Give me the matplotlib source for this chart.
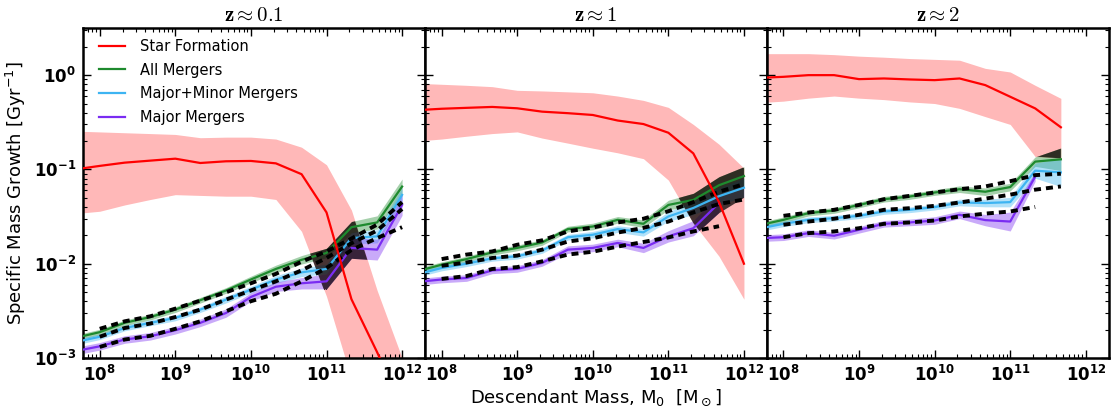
import numpy as np
import matplotlib
matplotlib.use("Agg")
import matplotlib.pyplot as plt
from matplotlib.ticker import LogLocator, FuncFormatter, NullFormatter

plt.rcParams['mathtext.fontset'] = 'dejavusans'
plt.rcParams['font.family'] = 'DejaVu Sans'

nan = np.nan

# descendant mass bins, log10(M0 / Msun)
log_mass = [7.67, 8.0, 8.33, 8.67, 9.0, 9.33, 9.67, 10.0, 10.33, 10.67, 11.0, 11.33, 11.67, 12.0]

# ---- z ~ 0.1 ----
sf_z01 = [0.10, 0.109, 0.118, 0.124, 0.13, 0.117, 0.122, 0.123, 0.116, 0.089, 0.035, 0.0042, 0.00115, 0.0003]
sf_lo_z01 = [0.034, 0.036, 0.042, 0.048, 0.054, 0.053, 0.052, 0.052, 0.048, 0.022, 0.0045, 0.0006, 0.0002, 0.0001]
sf_hi_z01 = [0.255, 0.25, 0.245, 0.24, 0.235, 0.217, 0.22, 0.22, 0.21, 0.172, 0.112, 0.037, 0.0052, 0.001]
all_z01 = [0.00163, 0.00188, 0.00236, 0.00272, 0.00326, 0.0041, 0.0052, 0.0068, 0.0088, 0.011, 0.013, 0.0244, 0.0274, 0.0658]
mm_z01 = [0.00147, 0.00168, 0.00208, 0.00236, 0.00266, 0.00326, 0.00416, 0.0053, 0.0068, 0.0081, 0.0088, 0.0187, 0.0195, 0.0537]
maj_z01 = [0.00118, 0.00133, 0.00157, 0.0017, 0.00197, 0.00236, 0.0030, 0.00444, 0.0057, 0.0062, 0.0065, 0.0147, 0.0141, 0.042]
fit_all_z01 = [nan, 0.00204, 0.00245, 0.00277, 0.00334, 0.00406, 0.00497, 0.0062, 0.0078, 0.0105, 0.0135, 0.0185, 0.026, 0.045]
fit_mm_z01 = [nan, 0.00168, 0.00208, 0.00232, 0.00272, 0.00326, 0.00416, 0.0052, 0.0065, 0.0085, 0.0115, 0.0165, 0.0225, 0.038]
fit_maj_z01 = [nan, 0.00131, 0.00157, 0.00172, 0.00204, 0.00245, 0.00313, 0.0040, 0.0048, 0.0065, 0.009, 0.014, 0.0187, 0.0244]
sp_all_z01 = [0.03, 0.03, 0.03, 0.03, 0.03, 0.03, 0.03, 0.035, 0.04, 0.045, 0.05, 0.06, 0.07, 0.08]
sp_mm_z01 = [0.03, 0.03, 0.03, 0.03, 0.03, 0.03, 0.035, 0.035, 0.04, 0.045, 0.05, 0.06, 0.07, 0.08]
sp_maj_z01 = [0.04, 0.04, 0.04, 0.04, 0.04, 0.04, 0.045, 0.045, 0.05, 0.06, 0.08, 0.11, 0.11, 0.11]

# ---- z ~ 1 ----
sf_z1 = [0.425, 0.44, 0.45, 0.46, 0.445, 0.41, 0.395, 0.378, 0.33, 0.303, 0.245, 0.148, 0.045, 0.01]
sf_lo_z1 = [0.2, 0.21, 0.225, 0.24, 0.25, 0.215, 0.19, 0.168, 0.15, 0.13, 0.077, 0.027, 0.012, 0.0042]
sf_hi_z1 = [0.82, 0.8, 0.78, 0.755, 0.69, 0.68, 0.665, 0.65, 0.6, 0.54, 0.455, 0.3, 0.185, 0.103]
all_z1 = [0.0083, 0.00976, 0.0112, 0.0132, 0.0147, 0.0168, 0.0233, 0.0248, 0.0292, 0.0265, 0.042, 0.0475, 0.068, 0.085]
mm_z1 = [0.0077, 0.009, 0.01, 0.0114, 0.012, 0.0138, 0.0191, 0.0203, 0.0233, 0.0215, 0.0317, 0.039, 0.052, 0.064]
maj_z1 = [0.0064, 0.0068, 0.00705, 0.0085, 0.0088, 0.0102, 0.0141, 0.0147, 0.0166, 0.0147, 0.0195, 0.0238, 0.044, nan]
fit_all_z1 = [nan, 0.0112, 0.0125, 0.0135, 0.0159, 0.0177, 0.022, 0.0242, 0.0274, 0.030, 0.036, 0.045, 0.058, 0.07]
fit_mm_z1 = [nan, 0.0095, 0.0103, 0.0115, 0.0122, 0.0141, 0.0172, 0.0186, 0.0214, 0.024, 0.028, 0.035, 0.043, 0.048]
fit_maj_z1 = [nan, 0.0069, 0.0074, 0.0088, 0.0092, 0.0106, 0.0125, 0.0134, 0.0152, 0.017, 0.019, 0.022, 0.025, nan]
sp_all_z1 = [0.03, 0.03, 0.03, 0.03, 0.03, 0.03, 0.03, 0.035, 0.035, 0.04, 0.05, 0.07, 0.09, 0.1]
sp_mm_z1 = [0.03, 0.03, 0.03, 0.03, 0.03, 0.03, 0.03, 0.035, 0.035, 0.04, 0.05, 0.07, 0.09, 0.1]
sp_maj_z1 = [0.035, 0.035, 0.035, 0.035, 0.035, 0.035, 0.04, 0.04, 0.04, 0.05, 0.06, 0.08, 0.1, nan]

# ---- z ~ 2 ----
sf_z2 = [0.935, 0.96, 1.0, 1.0, 0.907, 0.922, 0.9, 0.885, 0.922, 0.784, 0.59, 0.444, 0.28, nan]
sf_lo_z2 = [0.51, 0.53, 0.57, 0.6, 0.57, 0.55, 0.52, 0.5, 0.444, 0.363, 0.30, 0.137, 0.131, nan]
sf_hi_z2 = [1.69, 1.69, 1.69, 1.65, 1.59, 1.55, 1.5, 1.47, 1.44, 1.18, 1.08, 0.78, 0.567, nan]
all_z2 = [0.0255, 0.0292, 0.0344, 0.0367, 0.042, 0.0483, 0.0516, 0.0569, 0.0617, 0.058, 0.065, 0.121, 0.128, nan]
mm_z2 = [0.0235, 0.0265, 0.0292, 0.0304, 0.0322, 0.0358, 0.0373, 0.0398, 0.0446, 0.044, 0.045, 0.097, 0.093, nan]
maj_z2 = [0.0186, 0.0191, 0.0211, 0.0198, 0.0229, 0.0265, 0.0274, 0.0287, 0.033, 0.029, 0.028, 0.084, nan, nan]
fit_all_z2 = [nan, 0.0322, 0.0349, 0.0373, 0.042, 0.0483, 0.0524, 0.0569, 0.0617, 0.066, 0.075, 0.087, 0.09, nan]
fit_mm_z2 = [nan, 0.0259, 0.028, 0.030, 0.033, 0.0373, 0.0388, 0.0411, 0.0446, 0.049, 0.054, 0.061, 0.066, nan]
fit_maj_z2 = [nan, 0.0191, 0.0211, 0.022, 0.0238, 0.0265, 0.0274, 0.0287, 0.0317, 0.034, 0.0358, 0.040, nan, nan]
sp_all_z2 = [0.03, 0.03, 0.03, 0.03, 0.03, 0.03, 0.03, 0.03, 0.035, 0.04, 0.04, 0.05, 0.12, nan]
sp_mm_z2 = [0.03, 0.03, 0.03, 0.03, 0.03, 0.03, 0.03, 0.03, 0.035, 0.04, 0.05, 0.08, 0.15, nan]
sp_maj_z2 = [0.035, 0.035, 0.035, 0.035, 0.035, 0.035, 0.035, 0.04, 0.04, 0.06, 0.1, 0.05, nan, nan]

titles = [r'$\mathbf{z\approx0.1}$', r'$\mathbf{z\approx1}$', r'$\mathbf{z\approx2}$']
labels = ['Star Formation', 'All Mergers', 'Major+Minor Mergers', 'Major Mergers']

c_sf = '#ff0000'
c_all = '#1e8a2e'
c_mm = '#3db4f2'
c_maj = '#7a2cf2'

panels = [
    (sf_z01, sf_lo_z01, sf_hi_z01, [all_z01, mm_z01, maj_z01], [sp_all_z01, sp_mm_z01, sp_maj_z01], [fit_all_z01, fit_mm_z01, fit_maj_z01]),
    (sf_z1, sf_lo_z1, sf_hi_z1, [all_z1, mm_z1, maj_z1], [sp_all_z1, sp_mm_z1, sp_maj_z1], [fit_all_z1, fit_mm_z1, fit_maj_z1]),
    (sf_z2, sf_lo_z2, sf_hi_z2, [all_z2, mm_z2, maj_z2], [sp_all_z2, sp_mm_z2, sp_maj_z2], [fit_all_z2, fit_mm_z2, fit_maj_z2]),
]

mass = 10.0 ** np.array(log_mass)

fig = plt.figure(figsize=(11.11, 4.19), dpi=100)
left, bottom, w, h = 0.0747, 0.1456, 0.3077, 0.7875
axes = [fig.add_axes([left + i * w, bottom, w, h]) for i in range(3)]


def tick_fmt(v, pos):
    e = int(round(np.log10(v)))
    return r'$\mathbf{10^{%d}}$' % e


for i, ax in enumerate(axes):
    sf, sf_lo, sf_hi, mergers, spreads, fits = panels[i]
    ax.set_xscale('log')
    ax.set_yscale('log')

    red_band = ax.fill_between(mass, sf_lo, sf_hi, color=c_sf, alpha=0.28, lw=0, zorder=1)

    los, his = [], []
    for vals, sp, col in zip(mergers, spreads, [c_all, c_mm, c_maj]):
        v = np.array(vals)
        s = np.array(sp)
        lo = v / 10 ** s
        hi = v * 10 ** s
        ax.fill_between(mass, lo, hi, color=col, alpha=0.4, lw=0, zorder=2)
        los.append(lo)
        his.append(hi)

    # region where the SF band overlaps the merger bands renders dark
    env_lo = np.fmin(np.fmin(los[0], los[1]), los[2])
    env_hi = np.fmax(np.fmax(his[0], his[1]), his[2])
    dark = ax.fill_between(mass, env_lo, env_hi, color='k', alpha=0.72, lw=0, zorder=3)
    dark.set_clip_path(red_band.get_paths()[0], ax.transData)

    h_all, = ax.plot(mass, mergers[0], color=c_all, lw=1.6, zorder=4)
    h_mm, = ax.plot(mass, mergers[1], color=c_mm, lw=1.6, zorder=4)
    h_maj, = ax.plot(mass, mergers[2], color=c_maj, lw=1.6, zorder=4)
    for f in fits:
        ax.plot(mass, f, color='k', lw=2.8, ls=(0, (1.8, 1.3)), zorder=5)
    h_sf, = ax.plot(mass, sf, color=c_sf, lw=1.6, zorder=6)

    ax.set_xlim(6e7, 2e12)
    ax.set_ylim(1e-3, 3.16)
    ax.xaxis.set_major_locator(LogLocator(base=10, numticks=20))
    ax.xaxis.set_minor_locator(LogLocator(base=10, subs=np.arange(2, 10), numticks=20))
    ax.yaxis.set_major_locator(LogLocator(base=10, numticks=20))
    ax.yaxis.set_minor_locator(LogLocator(base=10, subs=np.arange(2, 10), numticks=20))
    ax.xaxis.set_major_formatter(FuncFormatter(tick_fmt))
    ax.xaxis.set_minor_formatter(NullFormatter())
    ax.yaxis.set_minor_formatter(NullFormatter())
    if i == 0:
        ax.yaxis.set_major_formatter(FuncFormatter(tick_fmt))
    else:
        ax.yaxis.set_major_formatter(NullFormatter())
    ax.tick_params(which='both', direction='in', top=True, right=True, labelsize=12)
    ax.tick_params(which='major', length=6, width=1.0, pad=5)
    ax.tick_params(which='minor', length=3, width=0.8)
    for sp in ax.spines.values():
        sp.set_linewidth(1.8)
    ax.set_title(titles[i], math_fontfamily='cm', fontsize=15, pad=5)

    if i == 0:
        ax.legend([h_sf, h_all, h_mm, h_maj], labels, loc='upper left', frameon=False,
                  fontsize=10.5, handlelength=1.8, handletextpad=1.0, labelspacing=0.6,
                  borderaxespad=0.0, bbox_to_anchor=(0.03, 0.985))

axes[0].set_ylabel(r'Specific Mass Growth [Gyr$^{-1}$]', fontsize=13)
axes[1].set_xlabel(r'Descendant Mass, M$_0$  [M$_\odot$]', fontsize=13, labelpad=2)

fig.savefig('out.png', dpi=100)
